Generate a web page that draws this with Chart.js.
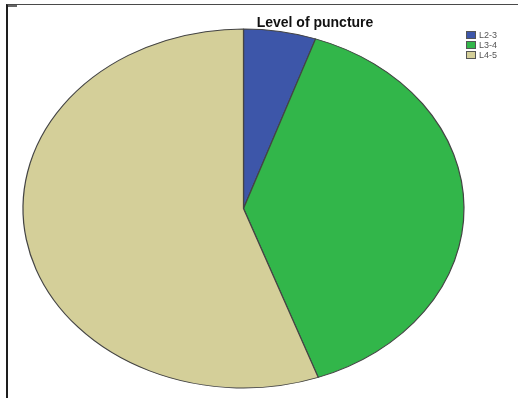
<!DOCTYPE html>
<html>
<head>
<meta charset="utf-8">
<script src="https://cdn.jsdelivr.net/npm/chart.js@4.4.1/dist/chart.umd.min.js"></script>
<style>
  html, body { margin: 0; padding: 0; background: #fff; }
  #wrap { position: relative; width: 518px; height: 398px; overflow: hidden; }
  #frame {
    position: absolute; left: 6px; top: 4px; right: -2px; bottom: -2px;
    border-left: 2px solid #1e1e1e; border-top: 1px solid #4a4a4a;
  }
  #stub { position: absolute; left: 8px; top: 5px; width: 9px; height: 2px; background: #666; }
  canvas { position: absolute; left: 0; top: 0; }
</style>
</head>
<body>
<div id="wrap">
  <canvas id="pie" width="518" height="398"></canvas>
  <div id="frame"></div>
  <div id="stub"></div>
</div>
<script>
  // data (percent of cases)
  const TITLE = "Level of puncture";
  const LEVELS = ["L2-3", "L3-4", "L4-5"];
  const SHARES = [5.3, 39.2, 55.5];
  const COLORS = ["#3d56a9", "#32b64a", "#d4cf99"];

  // pie is drawn as a circle, then stretched into the ellipse seen in the image
  const RX = 220.5, RY = 179.5;

  const stretchPie = {
    id: "stretchPie",
    beforeDatasetsDraw(chart) {
      const a = chart.getDatasetMeta(0).data[0];
      const ctx = chart.ctx;
      ctx.save();
      ctx.translate(a.x, a.y);
      ctx.scale(RX / RY, 1);
      ctx.translate(-a.x, -a.y);
    },
    afterDatasetsDraw(chart) {
      chart.ctx.restore();
    }
  };

  // title + small SPSS style legend in the top right corner
  const spssText = {
    id: "spssText",
    afterDraw(chart) {
      const ctx = chart.ctx;
      ctx.save();
      ctx.fillStyle = "#111";
      ctx.font = "bold 14px 'Liberation Sans', Arial, sans-serif";
      ctx.textAlign = "center";
      ctx.textBaseline = "alphabetic";
      ctx.fillText(TITLE, 315, 27);

      ctx.font = "9px 'Liberation Sans', Arial, sans-serif";
      ctx.textAlign = "left";
      ctx.textBaseline = "middle";
      LEVELS.forEach((lab, i) => {
        const y = 31 + i * 10;
        ctx.fillStyle = COLORS[i];
        ctx.fillRect(466, y, 10, 8);
        ctx.strokeStyle = "#555";
        ctx.lineWidth = 1;
        ctx.strokeRect(466.5, y + 0.5, 9, 7);
        ctx.fillStyle = "#555";
        ctx.fillText(lab, 479, y + 4.5);
      });
      ctx.restore();
    }
  };

  new Chart(document.getElementById("pie"), {
    type: "pie",
    data: {
      labels: LEVELS,
      datasets: [{
        data: SHARES,
        backgroundColor: COLORS,
        borderColor: "#444",
        borderWidth: 1
      }]
    },
    options: {
      responsive: false,
      animation: false,
      radius: RY,
      layout: { padding: { top: 29, bottom: 10, left: 64, right: 95 } },
      plugins: {
        legend: { display: false },
        title: { display: false },
        tooltip: { enabled: false }
      }
    },
    plugins: [stretchPie, spssText]
  });
</script>
</body>
</html>
